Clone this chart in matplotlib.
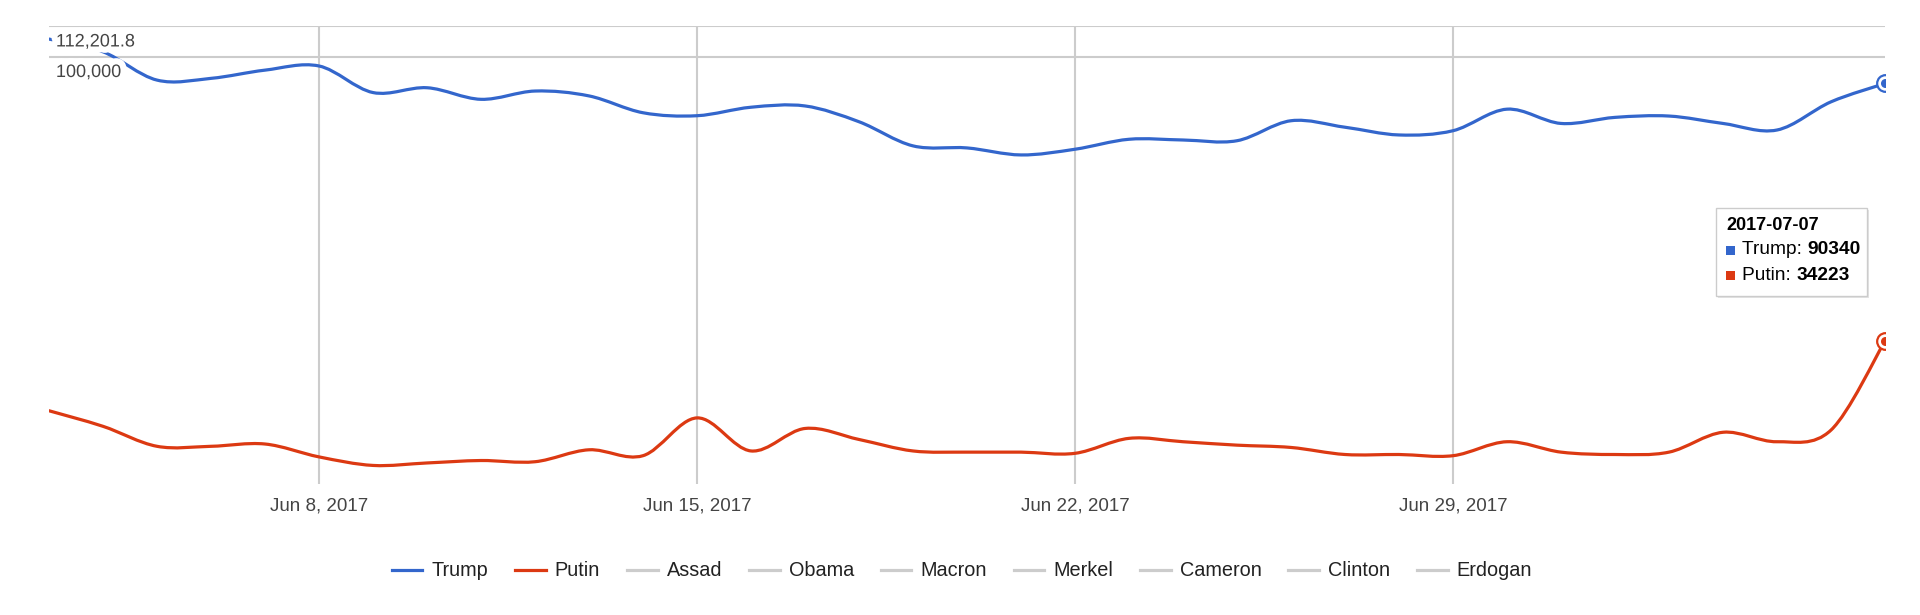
import numpy as np
import pandas as pd
import matplotlib
matplotlib.use("Agg")
import matplotlib.pyplot as plt
import matplotlib.dates as mdates
import matplotlib.patheffects as pe
from matplotlib.path import Path
from matplotlib.patches import PathPatch, Rectangle, FancyBboxPatch
from matplotlib.lines import Line2D

plt.rcParams['font.family'] = ['Liberation Sans', 'DejaVu Sans']

# daily mentions, 2017-06-03 .. 2017-07-07
dates = pd.date_range("2017-06-03", "2017-07-07", freq="D")
trump = [106800, 101800, 91500, 92100, 95000, 96500, 87300, 88900, 85100, 87800,
         86200, 80900, 80000, 82600, 83000, 78200, 71400, 70850, 69000, 70500,
         73200, 73000, 72800, 78500, 76600, 74400, 75600, 82000, 77700, 79500,
         79900, 77700, 75800, 84300, 90340]
putin = [26300, 24800, 23000, 23000, 23200, 22100, 21400, 21600, 21800, 21700,
         22700, 22200, 25600, 22600, 24600, 23600, 22600, 22500, 22500, 22400,
         23700, 23400, 23100, 22900, 22300, 22300, 22200, 23400, 22500, 22300,
         22500, 24250, 23400, 24450, 34223]
series_names = ["Trump", "Putin", "Assad", "Obama", "Macron", "Merkel", "Cameron", "Clinton", "Erdogan"]
series_colors = {"Trump": "#3366cc", "Putin": "#dc3912"}
tick_dates = ["2017-06-08", "2017-06-15", "2017-06-22", "2017-06-29"]
y_min, y_max = 10 ** 4.3, 10 ** 5.05
y_labels = [(y_max, "112,201.8"), (100000, "100,000")]

W, H = 1920, 615


def px(x, y):
    """ pixel position -> figure fraction """
    return x / W, 1 - y / H


def smooth_path(xs, ys):
    """
    Bezier path through the points (catmull-rom style, in log-y space).
    """
    lx = np.asarray(xs, float)
    ly = np.log10(np.asarray(ys, float))
    n = len(lx)
    verts = [(lx[0], ly[0])]
    codes = [Path.MOVETO]
    for i in range(n - 1):
        a = i - 1 if i > 0 else i
        d = i + 2 if i + 2 < n else i + 1
        c1 = (lx[i] + (lx[i + 1] - lx[a]) / 6, ly[i] + (ly[i + 1] - ly[a]) / 6)
        c2 = (lx[i + 1] - (lx[d] - lx[i]) / 6, ly[i + 1] - (ly[d] - ly[i]) / 6)
        verts += [c1, c2, (lx[i + 1], ly[i + 1])]
        codes += [Path.CURVE4] * 3
    verts = np.array(verts)
    verts[:, 1] = 10 ** verts[:, 1]
    return Path(verts, codes)


fig = plt.figure(figsize=(W / 100, H / 100), dpi=100)
x0, y0 = px(49, 484)
x1, y1 = px(1885, 26)
ax = fig.add_axes([x0, y0, x1 - x0, y1 - y0])

xnum = mdates.date2num(dates)
ax.set_yscale("log")
ax.set_xlim(xnum[0], xnum[-1])
ax.set_ylim(y_min, y_max)

for s in ax.spines.values():
    s.set_visible(False)

ax.set_yticks([v for v, _ in y_labels])
ax.yaxis.set_minor_locator(matplotlib.ticker.NullLocator())
ax.set_yticklabels([])
ax.tick_params(axis="y", length=0)
ax.set_xticks(mdates.date2num(pd.to_datetime(tick_dates)))
ax.set_xticklabels([pd.Timestamp(d).strftime("%b ") + str(pd.Timestamp(d).day) + ", 2017" for d in tick_dates],
                   fontsize=13.5, color="#444444")
ax.tick_params(axis="x", length=0, pad=10)
ax.grid(True, color="#cccccc", linewidth=1.5)
ax.set_axisbelow(True)

for name, vals in (("Trump", trump), ("Putin", putin)):
    col = series_colors[name]
    ax.add_patch(PathPatch(smooth_path(xnum, vals), fill=False, edgecolor=col,
                           linewidth=2.3, capstyle="round", zorder=3))
    ax.plot(xnum[-1], vals[-1], "o", ms=12, mfc="white", mec=col, mew=1.6, zorder=5)
    ax.plot(xnum[-1], vals[-1], "o", ms=6.5, mfc=col, mec="none", zorder=6)

# y labels sit inside the plot, under their gridline, with a white halo
for v, lab in y_labels:
    ax.annotate(lab, xy=(0, v), xycoords=("axes fraction", "data"),
                xytext=(5, -11.5), textcoords="offset points",
                ha="left", va="center", fontsize=13, color="#444444", zorder=4,
                path_effects=[pe.withStroke(linewidth=9, foreground="white")])

# legend
handles = [Line2D([], [], color=series_colors.get(n, "#cccccc"), linewidth=2.3) for n in series_names]
fig.legend(handles, series_names, loc="center", bbox_to_anchor=(px(962, 571)),
           ncol=len(series_names), frameon=False, fontsize=14.3, handlelength=1.55,
           handletextpad=0.45, columnspacing=1.35, labelcolor="#222222")

# tooltip for the last day
bx0, by0 = px(1716, 296)
bx1, by1 = px(1867, 208)
fig.patches.append(FancyBboxPatch((bx0 + 0.0012, by0 - 0.004), bx1 - bx0, by1 - by0,
                                  boxstyle="square,pad=0", transform=fig.transFigure,
                                  facecolor="#e4e4e4", edgecolor="none", zorder=9))
fig.patches.append(FancyBboxPatch((bx0, by0), bx1 - bx0, by1 - by0,
                                  boxstyle="square,pad=0", transform=fig.transFigure,
                                  facecolor="white", edgecolor="#cccccc", linewidth=1, zorder=10))
tx, ty = px(1726, 226)
fig.text(tx, ty, dates[-1].strftime("%Y-%m-%d"), fontsize=13, fontweight="bold",
         color="black", va="center", ha="left", zorder=11)
fig.canvas.draw()
renderer = fig.canvas.get_renderer()
for k, (name, vals) in enumerate((("Trump", trump), ("Putin", putin))):
    yy = 250 + 25 * k
    sx, sy = px(1726, yy + 4.5)
    fig.patches.append(Rectangle((sx, sy), 9 / W, 9 / H, transform=fig.transFigure,
                                 facecolor=series_colors[name], edgecolor="none", zorder=11))
    lx, ly = px(1742, yy)
    t = fig.text(lx, ly, name + ": ", fontsize=13.8, color="black", va="center", ha="left", zorder=11)
    bb = t.get_window_extent(renderer)
    fig.text(bb.x1 / W, ly, str(vals[-1]), fontsize=13.8, fontweight="bold",
             color="black", va="center", ha="left", zorder=11)

fig.savefig("out.png", dpi=100, facecolor="white")
